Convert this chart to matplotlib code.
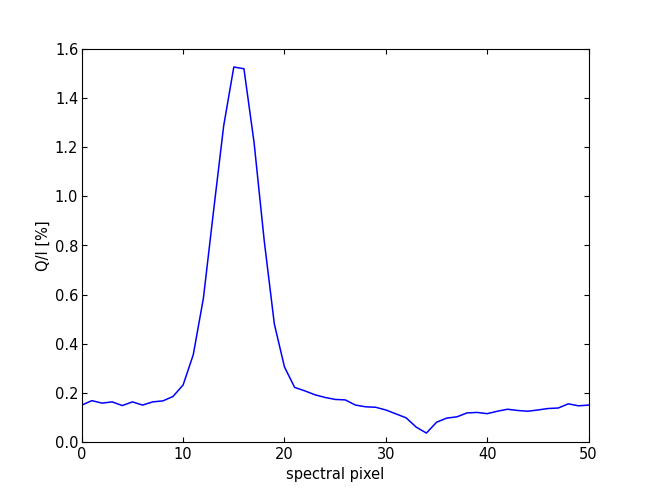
import numpy as np
import matplotlib
matplotlib.use("Agg")
import matplotlib.pyplot as plt

# Q/I per spectral pixel
pixel = np.arange(51)
q_over_i = [0.150, 0.168, 0.158, 0.163, 0.148, 0.163, 0.150, 0.163, 0.167, 0.185,
            0.232, 0.355, 0.585, 0.940, 1.287, 1.527, 1.520, 1.219, 0.820, 0.480,
            0.305, 0.222, 0.208, 0.192, 0.181, 0.173, 0.171, 0.150, 0.143, 0.141,
            0.130, 0.114, 0.098, 0.060, 0.036, 0.080, 0.097, 0.102, 0.118, 0.120,
            0.115, 0.125, 0.133, 0.128, 0.125, 0.130, 0.136, 0.138, 0.155, 0.147,
            0.150]

plt.rcParams['font.size'] = 10.5
plt.rcParams['xtick.direction'] = 'in'
plt.rcParams['ytick.direction'] = 'in'
plt.rcParams['xtick.top'] = True
plt.rcParams['ytick.right'] = True
plt.rcParams['xtick.major.pad'] = 4
plt.rcParams['ytick.major.pad'] = 2.5

fig = plt.figure(figsize=(6.54, 4.91), dpi=100)
ax = fig.add_axes([0.125, 0.1, 0.775, 0.8])
ax.plot(pixel, q_over_i, color='b', linewidth=1.1)
ax.set_xlim(0, 50)
ax.set_ylim(0, 1.6)
ax.set_xticks([0, 10, 20, 30, 40, 50])
ax.set_yticks(np.arange(0, 1.61, 0.2))
ax.set_yticklabels(["%.1f" % v for v in np.arange(0, 1.61, 0.2)])
ax.set_xlabel("spectral pixel", labelpad=3)
ax.set_ylabel("Q/I [%]", labelpad=3)

fig.savefig("out.png", dpi=100)
